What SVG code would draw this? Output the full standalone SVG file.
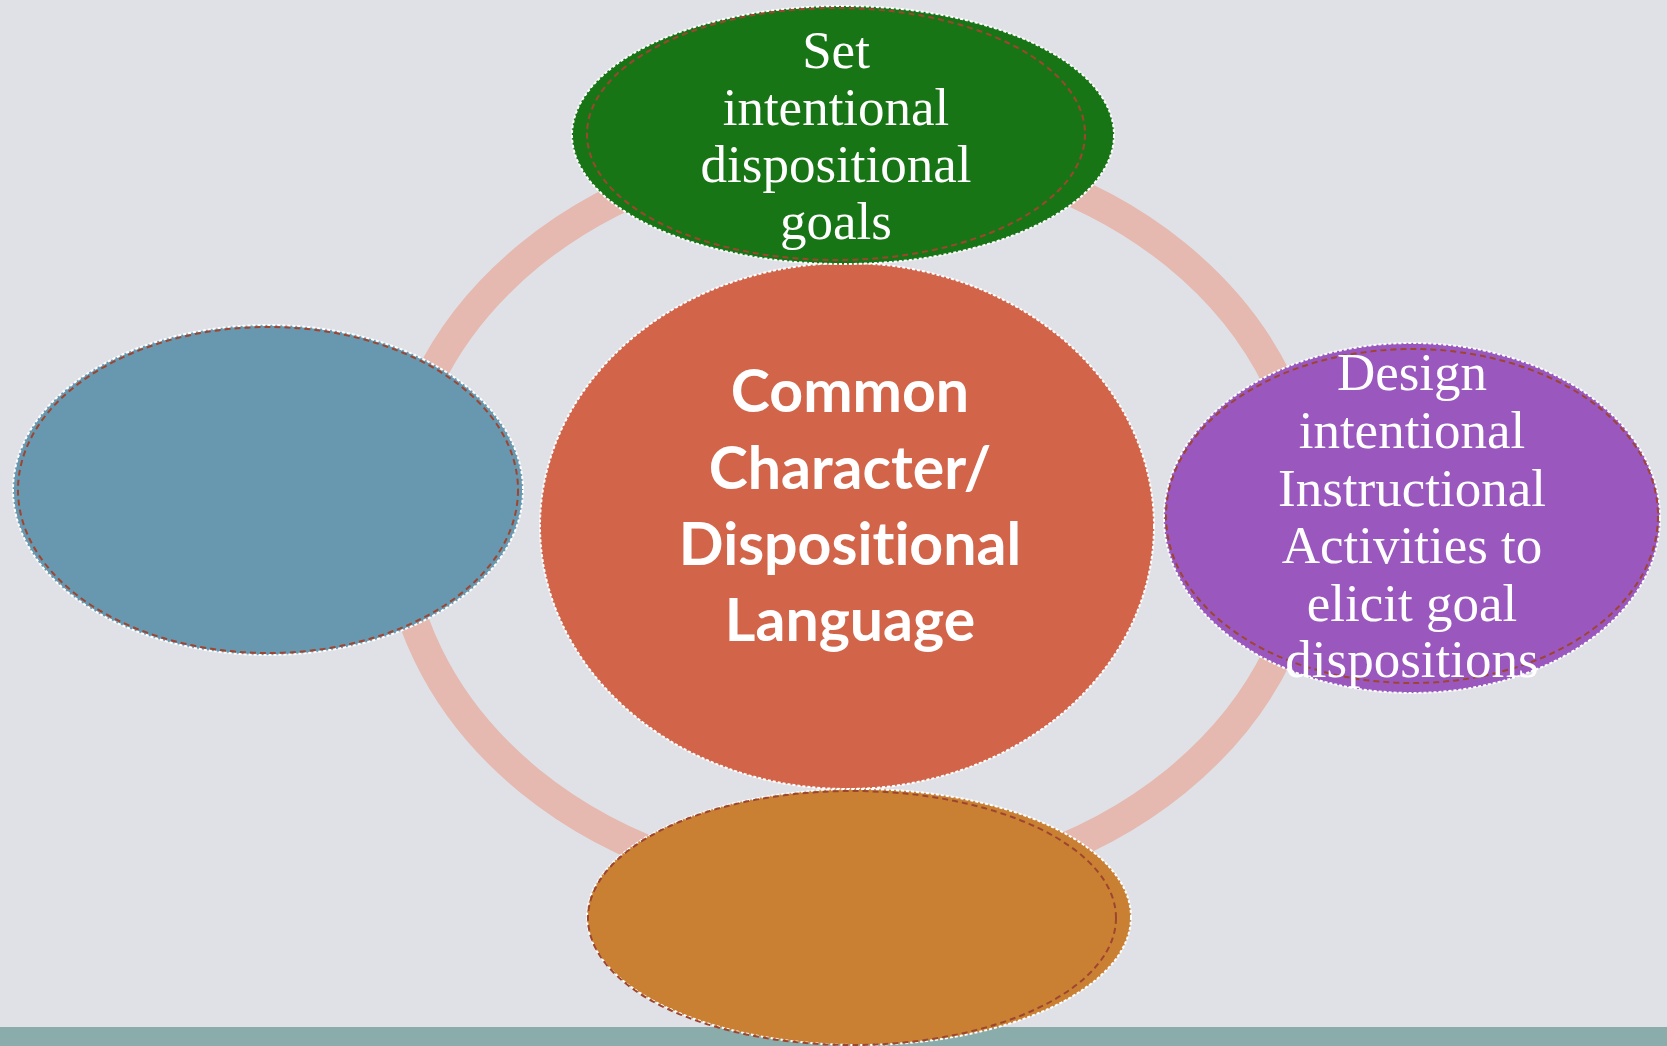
<svg xmlns="http://www.w3.org/2000/svg" width="1667" height="1046" viewBox="0 0 1667 1046">
<style>
.outer{stroke:#ffffff;stroke-width:2;stroke-dasharray:3 2}
.inner{fill:none;stroke:#9E4530;stroke-width:2;stroke-dasharray:6 4}
.serif{font-family:"Liberation Serif","Times New Roman",serif;font-size:53px;fill:#ffffff;text-anchor:middle}
.bold{font-family:Lato,"Open Sans",sans-serif;font-weight:700;font-size:59px;fill:#ffffff;text-anchor:middle;font-variant-ligatures:none}
</style>
<rect x="0" y="0" width="1667" height="1046" fill="#E0E1E6"/>
<rect x="0" y="1027" width="1667" height="19" fill="#8AACAA"/>
<g id="connectors">
<ellipse cx="853" cy="518" rx="457" ry="372" fill="none" stroke="#E5B8B0" stroke-width="30"/>
</g>
<g id="node-center">
<ellipse class="outer" cx="847" cy="526" rx="307" ry="263" fill="#D2644A"/>
<text class="bold" x="850" y="412">Common</text>
<text class="bold" x="850" y="489">Character/</text>
<text class="bold" x="850" y="565">Dispositional</text>
<text class="bold" x="850" y="641">Language</text>
</g>
<g id="node-top">
<ellipse class="outer" cx="843" cy="135" rx="271" ry="129" fill="#187515"/>
<ellipse class="inner" cx="836" cy="134" rx="249" ry="126"/>
<text class="serif" x="836" y="68">Set</text>
<text class="serif" x="836" y="125">intentional</text>
<text class="serif" x="836" y="182">dispositional</text>
<text class="serif" x="836" y="239">goals</text>
</g>
<g id="node-right">
<ellipse class="outer" cx="1412" cy="518" rx="248" ry="175" fill="#9A58BF"/>
<ellipse class="inner" cx="1412" cy="516" rx="246" ry="167"/>
<text class="serif" x="1412" y="390">Design</text>
<text class="serif" x="1412" y="448">intentional</text>
<text class="serif" x="1412" y="506">Instructional</text>
<text class="serif" x="1412" y="563">Activities to</text>
<text class="serif" x="1412" y="621">elicit goal</text>
<text class="serif" x="1412" y="677">dispositions</text>
</g>
<g id="node-bottom">
<ellipse class="outer" cx="859" cy="917" rx="272" ry="128" fill="#C98033"/>
<ellipse class="inner" cx="852" cy="918" rx="264" ry="127"/>
</g>
<g id="node-left">
<ellipse class="outer" cx="268" cy="490" rx="255" ry="165" fill="#6898B0"/>
<ellipse class="inner" cx="268" cy="490" rx="250" ry="163"/>
</g>
</svg>
